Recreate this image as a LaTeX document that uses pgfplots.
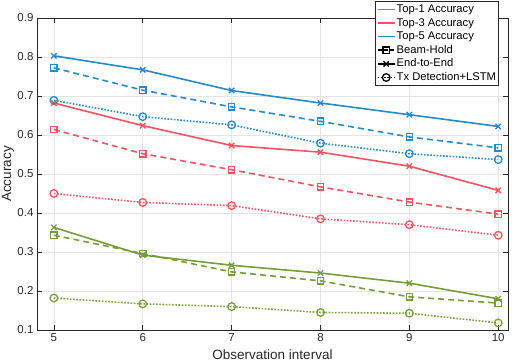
\documentclass[border=0pt]{standalone}
\usepackage{fontspec}
\setmainfont{Liberation Sans}
\usepackage{pgfplots}
\pgfplotsset{compat=1.18}
\usetikzlibrary{calc}

\definecolor{cgreen}{RGB}{118,157,59}
\definecolor{cred}{RGB}{240,84,97}
\definecolor{cblue}{RGB}{37,138,199}
\definecolor{axgray}{RGB}{38,38,38}

\begin{document}
\begin{tikzpicture}
\begin{axis}[name=ax, scale only axis, width=471bp, height=312bp,
  xmin=4.81, xmax=10.11, ymin=0.1, ymax=0.9,
  xtick={5,6,7,8,9,10}, ytick={0.1,0.2,0.3,0.4,0.5,0.6,0.7,0.8,0.9},
  grid=major, major grid style={black!10, line width=0.6bp},
  axis line style={axgray, line width=0.6bp},
  tick style={axgray, line width=0.6bp},
  tick align=inside, major tick length=5bp,
  ticklabel style={font=\fontsize{11.5bp}{13bp}\selectfont, text=axgray},
  /pgf/number format/assume math mode=true,
  yticklabel style={/pgf/number format/fixed, /pgf/number format/precision=1,
    /pgf/number format/fixed zerofill},
  xlabel={Observation interval}, ylabel={Accuracy},
  label style={font=\fontsize{13.5bp}{15bp}\selectfont, text=axgray},
  xlabel style={at={(axis description cs:0.5,-0.08)}, anchor=center},
  ylabel style={at={(axis description cs:-0.062,0.5)}, anchor=center},
  legend cell align=left,
  legend style={at={(1,1)}, anchor=north east, xshift=-9bp, yshift=17bp,
    draw=axgray, line width=0.6bp, fill=white,
    font=\fontsize{11.2bp}{13bp}\selectfont, inner sep=1.5bp, row sep=0.2bp,
    nodes={inner sep=1.2bp, text height=8.5bp, text depth=2.5bp}},
  every axis plot/.append style={line width=1.6bp},
  mark options={solid, line width=1.3bp},
]
\addlegendimage{cgreen, solid, line width=1.6bp}\addlegendentry{Top-1 Accuracy}
\addlegendimage{cred, solid, line width=1.6bp}\addlegendentry{Top-3 Accuracy}
\addlegendimage{cblue, solid, line width=1.6bp}\addlegendentry{Top-5 Accuracy}
\addlegendimage{black, line width=1.6bp, dash pattern=on 4bp off 2bp, mark=square, mark size=3.2bp, mark options={solid, line width=1.3bp}}\addlegendentry{Beam-Hold}
\addlegendimage{black, line width=1.6bp, solid, mark=x, mark size=3.8bp, mark options={solid, line width=1.3bp}}\addlegendentry{End-to-End}
\addlegendimage{black, line width=1.6bp, dash pattern=on 1.6bp off 1.6bp, mark=o, mark size=3.8bp, mark options={solid, line width=1.3bp}}\addlegendentry{Tx Detection+LSTM}

% Top-1
\addplot[cgreen, solid, mark=x, mark size=3.8bp, forget plot] coordinates {
  (5,0.363) (6,0.292) (7,0.266) (8,0.246) (9,0.220) (10,0.180)};
\addplot[cgreen, dash pattern=on 6bp off 4bp, mark=square, mark size=3.2bp, forget plot] coordinates {
  (5,0.343) (6,0.296) (7,0.249) (8,0.226) (9,0.185) (10,0.169)};
\addplot[cgreen, dash pattern=on 1.6bp off 1.6bp, mark=o, mark size=3.8bp, forget plot] coordinates {
  (5,0.182) (6,0.167) (7,0.160) (8,0.145) (9,0.143) (10,0.118)};
% Top-3
\addplot[cred, solid, mark=x, mark size=3.8bp, forget plot] coordinates {
  (5,0.682) (6,0.624) (7,0.573) (8,0.556) (9,0.520) (10,0.458)};
\addplot[cred, dash pattern=on 6bp off 4bp, mark=square, mark size=3.2bp, forget plot] coordinates {
  (5,0.614) (6,0.552) (7,0.511) (8,0.467) (9,0.428) (10,0.397)};
\addplot[cred, dash pattern=on 1.6bp off 1.6bp, mark=o, mark size=3.8bp, forget plot] coordinates {
  (5,0.450) (6,0.427) (7,0.419) (8,0.385) (9,0.370) (10,0.343)};
% Top-5
\addplot[cblue, solid, mark=x, mark size=3.8bp, forget plot] coordinates {
  (5,0.803) (6,0.767) (7,0.714) (8,0.682) (9,0.652) (10,0.622)};
\addplot[cblue, dash pattern=on 6bp off 4bp, mark=square, mark size=3.2bp, forget plot] coordinates {
  (5,0.772) (6,0.715) (7,0.672) (8,0.635) (9,0.595) (10,0.567)};
\addplot[cblue, dash pattern=on 1.6bp off 1.6bp, mark=o, mark size=3.8bp, forget plot] coordinates {
  (5,0.689) (6,0.647) (7,0.626) (8,0.579) (9,0.552) (10,0.537)};
\end{axis}
\pgfresetboundingbox
\path ($(ax.south west)+(-37bp,-34bp)$) rectangle ($(ax.north east)+(10bp,18bp)$);
\end{tikzpicture}
\end{document}
